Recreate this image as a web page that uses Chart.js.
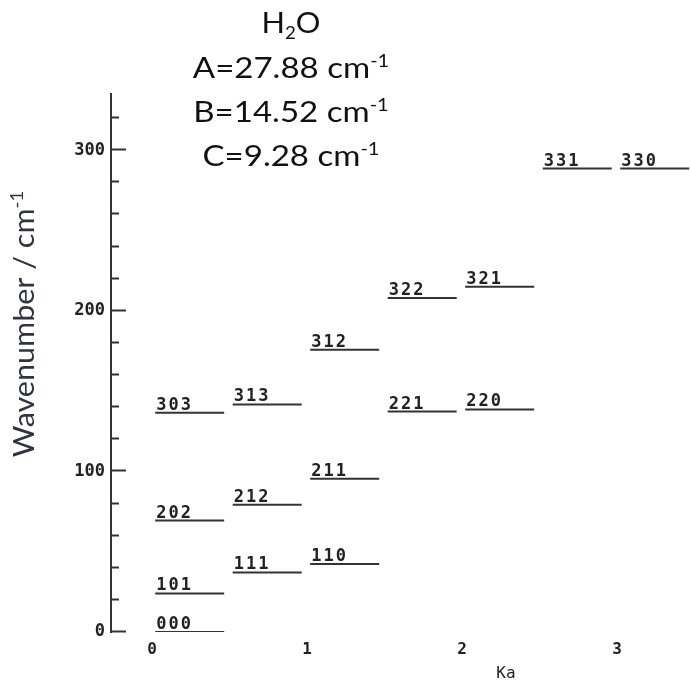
<!DOCTYPE html>
<html><head><meta charset="utf-8">
<script src="https://cdn.jsdelivr.net/npm/chart.js@4.4.1/dist/chart.umd.min.js"></script>
<style>html,body{margin:0;padding:0;background:#fff}canvas{display:block}</style>
</head><body>
<canvas id="c" width="690" height="683"></canvas>
<script>
// Rotational energy levels of H2O, labelled J Ka Kc
const levelNames  = ['000','101','202','303','111','212','313','110','211','312','221','322','220','321','331','330'];
const levelSlot   = [0, 0, 0, 0, 1, 1, 1, 2, 2, 2, 3, 3, 4, 4, 5, 6];
const levelEnergy = [0, 24.0, 69.4, 136.5, 37.1, 79.2, 141.7, 42.3, 95.4, 175.8, 137.3, 208.0, 138.6, 215.0, 288.6, 288.6];
const kaTicks = [0, 1, 2, 3];
const energyTicks = [0, 20, 40, 60, 80, 100, 120, 140, 160, 180, 200, 220, 240, 260, 280, 300, 320];
const energyLabelled = [0, 100, 200, 300];
const constants = [['A', '27.88'], ['B', '14.52'], ['C', '9.28']];

const MONO = '"DejaVu Sans Mono", monospace';
const SANS = 'Lato, "Open Sans", sans-serif';
const INK = '#333333';

const datasets = levelNames.map((name, i) => ({
  label: name,
  data: [
    { x: levelSlot[i] * 0.5 + 0.02, y: levelEnergy[i] },
    { x: levelSlot[i] * 0.5 + 0.465, y: levelEnergy[i] }
  ],
  showLine: true,
  borderColor: INK,
  borderWidth: 2,
  pointRadius: 0
}));

// draws a run of text pieces (with super/subscripts) centred on x, stretched by sx
function richText(ctx, parts, x, y, sx) {
  let total = 0;
  parts.forEach(p => { ctx.font = p.font; total += ctx.measureText(p.t).width; });
  ctx.save();
  ctx.translate(x, y);
  ctx.scale(sx, 1);
  let cx = -total / 2;
  ctx.textAlign = 'left';
  ctx.textBaseline = 'alphabetic';
  parts.forEach(p => {
    ctx.font = p.font;
    ctx.fillText(p.t, cx, p.dy || 0);
    cx += ctx.measureText(p.t).width;
  });
  ctx.restore();
}

const decorations = {
  id: 'decorations',
  afterDatasetsDraw(chart) {
    const { ctx, chartArea, scales } = chart;
    const ys = scales.y;
    ctx.save();
    // inward tick marks on the energy axis
    ctx.strokeStyle = INK;
    ctx.lineWidth = 2;
    energyTicks.forEach(v => {
      const py = Math.round(ys.getPixelForValue(v)) - 0.5;
      const len = energyLabelled.includes(v) ? 15 : 8;
      ctx.beginPath();
      ctx.moveTo(chartArea.left, py);
      ctx.lineTo(chartArea.left + len, py);
      ctx.stroke();
    });
    // level names above each line
    ctx.fillStyle = '#222';
    ctx.font = 'bold 17px ' + MONO;
    ctx.letterSpacing = '2px';
    ctx.textAlign = 'left';
    ctx.textBaseline = 'alphabetic';
    chart.data.datasets.forEach((ds, i) => {
      const p0 = chart.getDatasetMeta(i).data[0];
      ctx.fillText(ds.label, p0.x + 1, p0.y - 3);
    });
    ctx.letterSpacing = '0px';
    // axis name for Ka
    ctx.font = '16px ' + MONO;
    ctx.fillStyle = '#222';
    ctx.textAlign = 'center';
    ctx.fillText('Ka', 506, 678);
    // heading: molecule and rotational constants
    ctx.fillStyle = '#111';
    const big = '28px ' + SANS, small = '17px ' + SANS;
    const cx = 291;
    richText(ctx, [{ t: 'H', font: big }, { t: '2', font: small, dy: 6 }, { t: 'O', font: big }], cx, 33, 1.1);
    constants.forEach((c, k) => {
      richText(ctx, [{ t: c[0] + '=' + c[1] + ' cm', font: big }, { t: '-1', font: small, dy: -11 }], cx, 78 + k * 44, 1.18);
    });
    // vertical axis title
    ctx.save();
    ctx.translate(34, 324);
    ctx.rotate(-Math.PI / 2);
    ctx.fillStyle = '#2f3440';
    richText(ctx, [{ t: 'Wavenumber / cm', font: big }, { t: '-1', font: small, dy: -11 }], 0, 0, 1.09);
    ctx.restore();
    ctx.restore();
  }
};

new Chart(document.getElementById('c'), {
  type: 'scatter',
  data: { datasets },
  options: {
    responsive: false,
    animation: false,
    devicePixelRatio: 1,
    layout: { padding: { top: 94, right: 0, bottom: 0, left: 0 } },
    plugins: { legend: { display: false }, tooltip: { enabled: false } },
    scales: {
      x: {
        type: 'linear',
        min: -0.265,
        max: 3.47,
        afterFit(s) { s.height = 51; },
        afterBuildTicks(s) { s.ticks = kaTicks.map(v => ({ value: v })); },
        grid: { display: false, drawTicks: false },
        border: { display: false },
        ticks: { padding: 8, color: '#222', font: { family: MONO, size: 16, weight: 'bold' }, maxRotation: 0 }
      },
      y: {
        type: 'linear',
        min: 0,
        max: 335,
        afterFit(s) { s.width = 111; },
        afterBuildTicks(s) { s.ticks = energyTicks.map(v => ({ value: v })); },
        grid: { display: false, drawTicks: false },
        border: { display: true, color: INK, width: 2 },
        ticks: {
          padding: 6,
          color: '#222',
          font: { family: MONO, size: 17, weight: 'bold' },
          callback: v => energyLabelled.includes(v) ? String(v) : ''
        }
      }
    }
  },
  plugins: [decorations]
});
</script>
</body></html>
